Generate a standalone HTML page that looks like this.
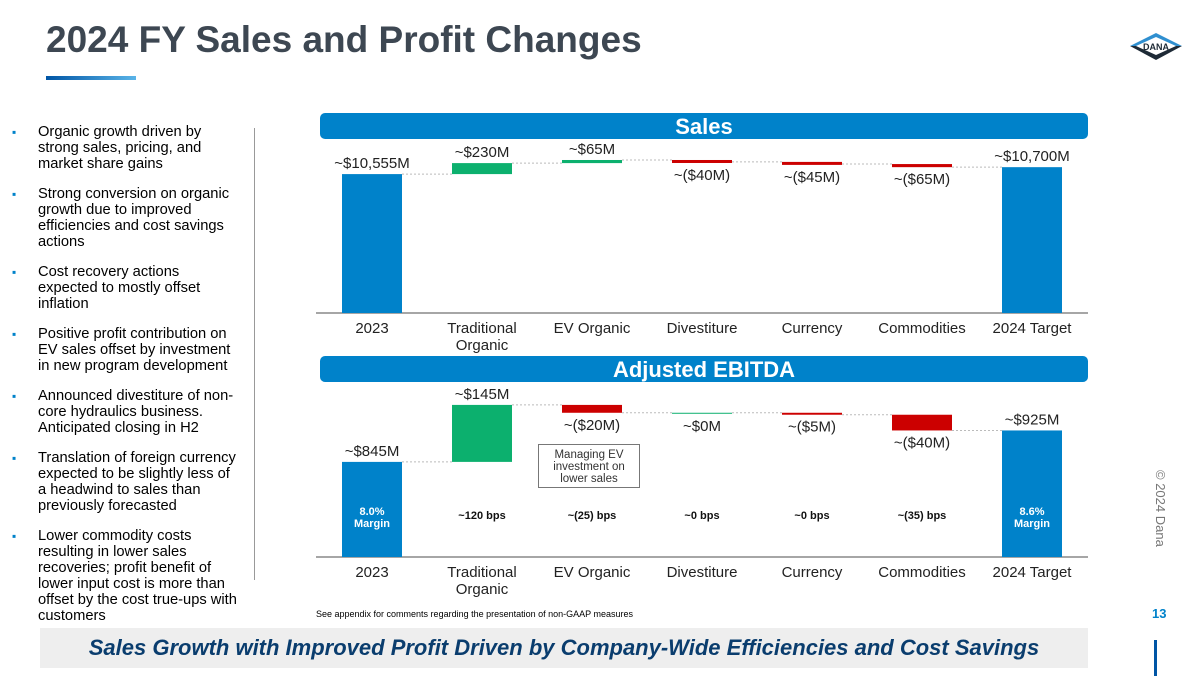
<!DOCTYPE html>
<html><head><meta charset="utf-8"><style>
body{margin:0;width:1200px;height:675px;overflow:hidden;background:#fff;font-family:"Liberation Sans",sans-serif;position:relative}
.abs{position:absolute}
.title{left:46px;top:19px;font-size:37px;font-weight:bold;color:#3d4752}
.bul{left:12px;top:124px;width:240px;font-size:14.7px;line-height:16px;color:#000;white-space:nowrap}
.bul div{position:relative;padding-left:26px;margin-bottom:14px}
.bul div:before{content:"▪";position:absolute;left:0;top:0;color:#0082ca;font-size:12px}
.band{left:320px;width:768px;height:26px;background:#0082ca;border-radius:5px;color:#fff;font-weight:bold;font-size:22px;text-align:center;line-height:28px}
</style></head><body>
<div class="abs title">2024 FY Sales and Profit Changes</div>
<div class="abs" style="left:46px;top:76px;width:90px;height:4px;background:linear-gradient(90deg,#0055a5,#5ab4e8)"></div>
<svg class="abs" style="left:1128px;top:30px" width="56" height="32"><polygon points="2,16 28,3 54,16" fill="#2f8fd0"/><polygon points="2,16 28,30 54,16" fill="#1e2a36"/><polygon points="8,16 28,7 48,16 28,25" fill="#fff"/><text x="28" y="20" font-size="9" font-weight="bold" text-anchor="middle" fill="#1e2a36" font-family="Liberation Sans">DANA</text></svg>
<div class="abs bul">
<div>Organic growth driven by<br>strong sales, pricing, and<br>market share gains</div>
<div>Strong conversion on organic<br>growth due to improved<br>efficiencies and cost savings<br>actions</div>
<div>Cost recovery actions<br>expected to mostly offset<br>inflation</div>
<div>Positive profit contribution on<br>EV sales offset by investment<br>in new program development</div>
<div>Announced divestiture of non-<br>core hydraulics business.<br>Anticipated closing in H2</div>
<div>Translation of foreign currency<br>expected to be slightly less of<br>a headwind to sales than<br>previously forecasted</div>
<div>Lower commodity costs<br>resulting in lower sales<br>recoveries; profit benefit of<br>lower input cost is more than<br>offset by the cost true-ups with<br>customers</div>
</div>
<div class="abs" style="left:254px;top:128px;width:1px;height:452px;background:#999"></div>
<div class="abs band" style="top:113px">Sales</div>
<div class="abs band" style="top:356px">Adjusted EBITDA</div>
<svg id="ch" class="abs" style="left:0;top:0" width="1200" height="675"></svg>
<div class="abs" style="left:538px;top:444px;width:102px;height:44px;border:1px solid #777;font-size:11.5px;line-height:12px;text-align:center;color:#333;box-sizing:border-box;padding-top:4px">Managing EV investment on lower sales</div>
<div class="abs" style="left:316px;top:609px;font-size:9px;color:#000">See appendix for comments regarding the presentation of non-GAAP measures</div>
<div class="abs" style="left:1152px;top:606px;font-size:13px;font-weight:bold;color:#0082ca">13</div>
<div class="abs" style="left:1168px;top:470px;transform:rotate(90deg);transform-origin:left top;font-size:13px;color:#777;white-space:nowrap">© 2024 Dana</div>
<div class="abs" style="left:40px;top:628px;width:1048px;height:40px;background:#eeeeee;color:#0a3d6e;font-size:22px;font-weight:bold;font-style:italic;text-align:center;line-height:40px">Sales Growth with Improved Profit Driven by Company-Wide Efficiencies and Cost Savings</div>
<div class="abs" style="left:1154px;top:640px;width:3px;height:36px;background:#0055a5"></div>
<script>
const categories=["2023","Traditional|Organic","EV Organic","Divestiture","Currency","Commodities","2024 Target"];
const salesStart=10555, salesDeltas=[230,65,-40,-45,-65], salesEnd=10700;
const salesLabels=["~$10,555M","~$230M","~$65M","~($40M)","~($45M)","~($65M)","~$10,700M"];
const ebitdaStart=845, ebitdaDeltas=[145,-20,0,-5,-40], ebitdaEnd=925;
const ebitdaLabels=["~$845M","~$145M","~($20M)","~$0M","~($5M)","~($40M)","~$925M"];
const bpsLabels=["8.0%|Margin","~120 bps","~(25) bps","~0 bps","~0 bps","~(35) bps","8.6%|Margin"];
const svg=document.getElementById('ch');const NS="http://www.w3.org/2000/svg";
function mk(t,a,txt){const e=document.createElementNS(NS,t);for(const k in a)e.setAttribute(k,a[k]);if(txt!=null)e.textContent=txt;svg.appendChild(e);return e;}
const xC=i=>372+i*110, bw=60;
function draw(start,deltas,end,labels,base,v0,k,name,minH){
 const y=v=>base-(v-v0)*k;
 const ax=mk('line',{x1:316,x2:1088,y1:base,y2:base,stroke:'#888','stroke-width':1.5});
 
 let cur=start;const tops=[];
 let r=mk('rect',{x:xC(0)-bw/2,y:y(start),width:bw,height:base-y(start),fill:'#0082ca'});
 
 tops.push([y(start),y(start)]);
 deltas.forEach((d,i)=>{const a=y(cur),b=y(cur+d);let t=Math.min(a,b),h=Math.max(Math.abs(a-b),minH);
  mk('line',{x1:xC(i)+bw/2,x2:xC(i+1)-bw/2,y1:a,y2:a,stroke:'#bbb','stroke-dasharray':'2,2'});
  const rr=mk('rect',{x:xC(i+1)-bw/2,y:t,width:bw,height:h,fill:d>=0?'#0cb06e':'#cc0000'});
  
  tops.push([t,t+h]);cur+=d;});
 mk('line',{x1:xC(5)+bw/2,x2:xC(6)-bw/2,y1:y(cur),y2:y(cur),stroke:'#bbb','stroke-dasharray':'2,2'});
 r=mk('rect',{x:xC(6)-bw/2,y:y(end),width:bw,height:base-y(end),fill:'#0082ca'});
 
 tops.push([y(end),y(end)]);
 labels.forEach((l,i)=>{const neg=i>0&&i<6&&deltas[i-1]<0||(name=='ebitda'&&i==3);
  const ty=neg?tops[i][1]+17:tops[i][0]-6;
  const t=mk('text',{x:xC(i),y:ty,'text-anchor':'middle','font-size':15,fill:'#222'},l);
  });
 categories.forEach((c,i)=>{c.split('|').forEach((p,j)=>{const t=mk('text',{x:xC(i),y:base+20+j*17,'text-anchor':'middle','font-size':15,fill:'#222'},p);
  });});
}
draw(salesStart,salesDeltas,salesEnd,salesLabels,313,7649,0.0478,'sales',3);
draw(ebitdaStart,ebitdaDeltas,ebitdaEnd,ebitdaLabels,557,603,0.393,'ebitda',1);
bpsLabels.forEach((l,i)=>{const ps=l.split('|');const edge=i==0||i==6;
 ps.forEach((p,j)=>{const t=mk('text',{x:xC(i),y:(edge?515:519)+j*12,'text-anchor':'middle','font-size':11,'font-weight':'bold',fill:edge?'#fff':'#111'},p);
 });});
</script>
</body></html>
